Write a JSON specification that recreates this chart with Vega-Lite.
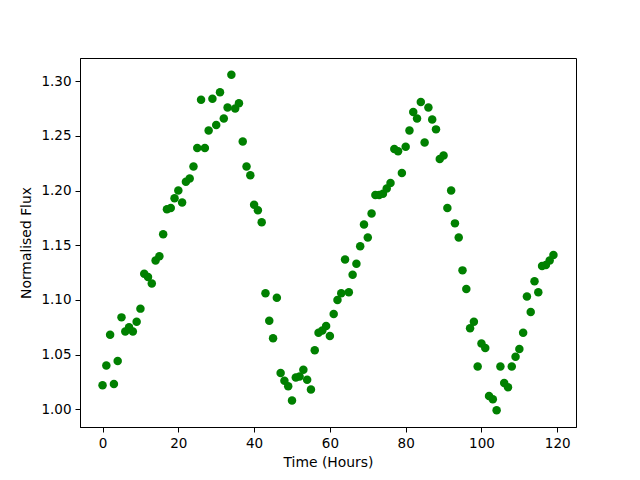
{
  "$schema": "https://vega.github.io/schema/vega-lite/v6.json",
  "autosize": {"type": "none"},
  "width": 496,
  "height": 369,
  "padding": {"left": 80, "top": 58, "right": 64, "bottom": 53},
  "background": "white",
  "config": {
    "view": {"stroke": "#000000", "strokeWidth": 1},
    "font": "DejaVu Sans",
    "axis": {
      "grid": false,
      "domainColor": "#000000",
      "tickColor": "#000000",
      "tickSize": 5,
      "labelPadding": 4,
      "labelFont": "DejaVu Sans",
      "labelFontSize": 13.5,
      "labelColor": "#000000",
      "titleFont": "DejaVu Sans",
      "titleFontSize": 13.9,
      "titleFontWeight": "normal",
      "titleColor": "#000000"
    }
  },
  "data": {
    "values": [
      {"t": 0, "f": 1.022}, {"t": 1, "f": 1.040}, {"t": 2, "f": 1.068}, {"t": 3, "f": 1.023},
      {"t": 4, "f": 1.044}, {"t": 5, "f": 1.084}, {"t": 6, "f": 1.071}, {"t": 7, "f": 1.075},
      {"t": 8, "f": 1.071}, {"t": 9, "f": 1.080}, {"t": 10, "f": 1.092}, {"t": 11, "f": 1.124},
      {"t": 12, "f": 1.121}, {"t": 13, "f": 1.115}, {"t": 14, "f": 1.136}, {"t": 15, "f": 1.140},
      {"t": 16, "f": 1.160}, {"t": 17, "f": 1.183}, {"t": 18, "f": 1.184}, {"t": 19, "f": 1.193},
      {"t": 20, "f": 1.200}, {"t": 21, "f": 1.189}, {"t": 22, "f": 1.208}, {"t": 23, "f": 1.211},
      {"t": 24, "f": 1.222}, {"t": 25, "f": 1.239}, {"t": 26, "f": 1.283}, {"t": 27, "f": 1.239},
      {"t": 28, "f": 1.255}, {"t": 29, "f": 1.284}, {"t": 30, "f": 1.260}, {"t": 31, "f": 1.290},
      {"t": 32, "f": 1.266}, {"t": 33, "f": 1.276}, {"t": 34, "f": 1.306}, {"t": 35, "f": 1.275},
      {"t": 36, "f": 1.280}, {"t": 37, "f": 1.245}, {"t": 38, "f": 1.222}, {"t": 39, "f": 1.214},
      {"t": 40, "f": 1.187}, {"t": 41, "f": 1.182}, {"t": 42, "f": 1.171}, {"t": 43, "f": 1.106},
      {"t": 44, "f": 1.081}, {"t": 45, "f": 1.065}, {"t": 46, "f": 1.102}, {"t": 47, "f": 1.033},
      {"t": 48, "f": 1.026}, {"t": 49, "f": 1.021}, {"t": 50, "f": 1.008}, {"t": 51, "f": 1.029},
      {"t": 52, "f": 1.030}, {"t": 53, "f": 1.036}, {"t": 54, "f": 1.027}, {"t": 55, "f": 1.018},
      {"t": 56, "f": 1.054}, {"t": 57, "f": 1.070}, {"t": 58, "f": 1.072}, {"t": 59, "f": 1.076},
      {"t": 60, "f": 1.067}, {"t": 61, "f": 1.087}, {"t": 62, "f": 1.100}, {"t": 63, "f": 1.106},
      {"t": 64, "f": 1.137}, {"t": 65, "f": 1.107}, {"t": 66, "f": 1.123}, {"t": 67, "f": 1.133},
      {"t": 68, "f": 1.149}, {"t": 69, "f": 1.169}, {"t": 70, "f": 1.157}, {"t": 71, "f": 1.179},
      {"t": 72, "f": 1.196}, {"t": 73, "f": 1.196}, {"t": 74, "f": 1.197}, {"t": 75, "f": 1.202},
      {"t": 76, "f": 1.207}, {"t": 77, "f": 1.238}, {"t": 78, "f": 1.236}, {"t": 79, "f": 1.216},
      {"t": 80, "f": 1.240}, {"t": 81, "f": 1.255}, {"t": 82, "f": 1.272}, {"t": 83, "f": 1.266},
      {"t": 84, "f": 1.281}, {"t": 85, "f": 1.244}, {"t": 86, "f": 1.276}, {"t": 87, "f": 1.265},
      {"t": 88, "f": 1.256}, {"t": 89, "f": 1.229}, {"t": 90, "f": 1.232}, {"t": 91, "f": 1.184},
      {"t": 92, "f": 1.200}, {"t": 93, "f": 1.170}, {"t": 94, "f": 1.157}, {"t": 95, "f": 1.127},
      {"t": 96, "f": 1.110}, {"t": 97, "f": 1.074}, {"t": 98, "f": 1.080}, {"t": 99, "f": 1.039},
      {"t": 100, "f": 1.060}, {"t": 101, "f": 1.056}, {"t": 102, "f": 1.012}, {"t": 103, "f": 1.009},
      {"t": 104, "f": 0.999}, {"t": 105, "f": 1.039}, {"t": 106, "f": 1.024}, {"t": 107, "f": 1.020},
      {"t": 108, "f": 1.039}, {"t": 109, "f": 1.048}, {"t": 110, "f": 1.055}, {"t": 111, "f": 1.070},
      {"t": 112, "f": 1.103}, {"t": 113, "f": 1.089}, {"t": 114, "f": 1.117}, {"t": 115, "f": 1.107},
      {"t": 116, "f": 1.131}, {"t": 117, "f": 1.132}, {"t": 118, "f": 1.136}, {"t": 119, "f": 1.141}
    ]
  },
  "mark": {"type": "circle", "size": 72, "color": "#008000", "opacity": 1},
  "encoding": {
    "x": {
      "field": "t", "type": "quantitative", "title": "Time (Hours)",
      "scale": {"domain": [-5.95, 124.95], "nice": false, "zero": false},
      "axis": {"values": [0, 20, 40, 60, 80, 100, 120], "titlePadding": 6}
    },
    "y": {
      "field": "f", "type": "quantitative", "title": "Normalised Flux",
      "scale": {"domain": [0.9837, 1.3213], "nice": false, "zero": false},
      "axis": {"values": [1.0, 1.05, 1.1, 1.15, 1.2, 1.25, 1.3], "format": ".2f", "titlePadding": 7}
    }
  }
}
